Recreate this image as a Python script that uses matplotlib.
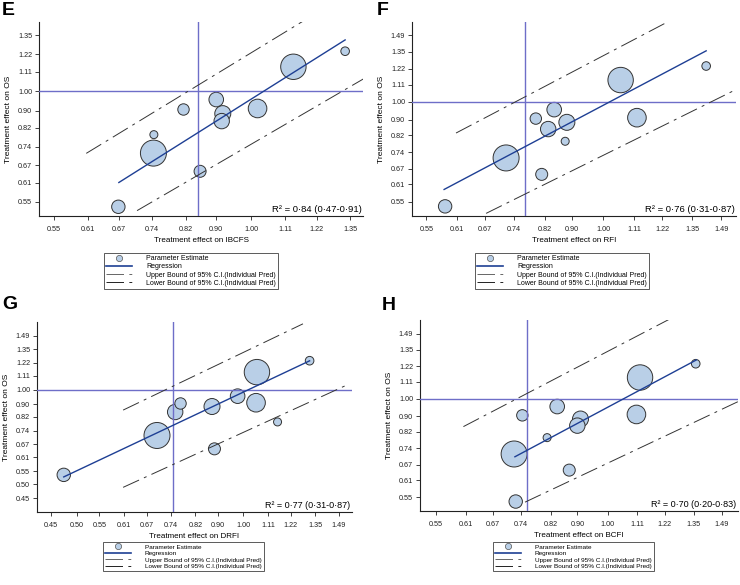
import matplotlib
matplotlib.use("Agg")
import matplotlib.pyplot as plt
from matplotlib.lines import Line2D

plt.rcParams['font.family'] = ['Liberation Sans', 'DejaVu Sans']

# OS hazard ratios of the 11 trial comparisons (same in every panel)
os_hr = [1.24, 1.14, 0.91, 0.955, 0.885, 0.85, 0.905, 0.79, 0.715, 0.648, 0.535]
# bubble radius (px), proportional to trial size
bubble_r = [4.3, 12.7, 9.3, 7.3, 8.0, 7.7, 5.7, 4.0, 13.0, 6.0, 6.7]

# treatment effect on the surrogate endpoint, same trial order
ibcfs_hr = [1.33, 1.137, 1.02, 0.90, 0.918, 0.915, 0.815, 0.745, 0.744, 0.857, 0.669]
rfi_hr = [1.415, 1.06, 1.12, 0.847, 0.884, 0.83, 0.796, 0.879, 0.72, 0.812, 0.586]
drfi_hr = [1.32, 1.06, 1.056, 0.978, 0.879, 0.754, 0.771, 1.155, 0.699, 0.888, 0.474]
bcfi_hr = [1.36, 1.12, 1.106, 0.839, 0.91, 0.90, 0.743, 0.81, 0.722, 0.875, 0.726]

letters = ['E', 'F', 'G', 'H']
x_names = ['IBCFS', 'RFI', 'DRFI', 'BCFI']
r2_text = ['0·84 (0·47-0·91)', '0·76 (0·31-0·87)', '0·77 (0·31-0·87)', '0·70 (0·20-0·83)']
ste = [0.851, 0.767, 0.746, 0.754]  # vertical reference line

# regression line and 95% prediction bounds (end points)
reg_x = [[0.67, 1.33], [0.584, 1.415], [0.474, 1.32], [0.724, 1.363]]
reg_y = [[0.61, 1.318], [0.592, 1.358], [0.527, 1.239], [0.703, 1.269]]
up_x = [[0.607, 1.171], [0.608, 1.25], [0.607, 1.284], [0.605, 1.24]]
up_y = [[0.714, 1.459], [0.830, 1.624], [0.862, 1.627], [0.845, 1.626]]
lo_x = [[0.708, 1.405], [0.673, 1.565], [0.607, 1.553], [0.750, 1.576]]
lo_y = [[0.524, 1.067], [0.513, 1.077], [0.488, 1.043], [0.533, 0.984]]

ticks_e = [0.55, 0.61, 0.67, 0.74, 0.82, 0.90, 1.00, 1.11, 1.22, 1.35]
ticks_f = ticks_e + [1.49]
ticks_g = [0.45, 0.50] + ticks_f

W, H = 740, 585
fill = '#b9cfe7'
reg_col = '#1e3f94'
ref_col = '#6e6ec8'
dash = (0, (18, 5.5, 3, 5.5))

fig = plt.figure(figsize=(W / 100, H / 100), dpi=100)

# axes boxes in px: left, top, right, bottom
boxes = [(39, 22, 363, 216), (412, 22, 736, 216), (37, 322, 352, 512), (420, 320, 738, 511)]
xlims = [(0.526, 1.404), (0.524, 1.565), (0.424, 1.575), (0.520, 1.576)]
ylims = [(0.509, 1.452), (0.505, 1.614), (0.407, 1.649), (0.505, 1.619)]
xticks = [ticks_e, ticks_f, ticks_g, ticks_f]
yticks = [ticks_e, ticks_f, ticks_g, ticks_f]
xdata = [ibcfs_hr, rfi_hr, drfi_hr, bcfi_hr]
letter_pos = [(2, 2), (377, 2), (2, 296), (382, 297)]
legend_pos = [(104, 253), (475, 253), (103, 542), (493, 542)]
leg_fs = [5.0, 5.0, 4.6, 4.6]

sizes = [(2 * r * 0.72) ** 2 for r in bubble_r]

for i in range(4):
    l, t, r, b = boxes[i]
    ax = fig.add_axes([l / W, 1 - b / H, (r - l) / W, (b - t) / H])
    ax.set_xscale('log')
    ax.set_yscale('log')

    ax.scatter(xdata[i], os_hr, s=sizes, c=fill, edgecolors='#333333', linewidths=0.7, zorder=3)
    ax.axhline(1.0, color=ref_col, lw=1.0, zorder=4)
    ax.axvline(ste[i], color=ref_col, lw=1.0, zorder=4)
    ax.plot(reg_x[i], reg_y[i], color=reg_col, lw=1.0, zorder=5)
    ax.plot(up_x[i], up_y[i], color='#333333', lw=0.7, ls=dash, zorder=5)
    ax.plot(lo_x[i], lo_y[i], color='#333333', lw=0.7, ls=dash, zorder=5)

    ax.set_xlim(*xlims[i])
    ax.set_ylim(*ylims[i])
    ax.minorticks_off()
    ax.set_xticks(xticks[i])
    ax.set_xticklabels(['%.2f' % v for v in xticks[i]])
    ax.set_yticks(yticks[i])
    ax.set_yticklabels(['%.2f' % v for v in yticks[i]])
    ax.minorticks_off()
    ax.tick_params(axis='x', length=3, width=0.6, pad=4, labelsize=5.2, colors='#222222')
    ax.tick_params(axis='y', length=3, width=0.6, pad=2, labelsize=5.2, colors='#222222')
    for s in ['top', 'right']:
        ax.spines[s].set_visible(False)
    for s in ['left', 'bottom']:
        ax.spines[s].set_color('#222222')
        ax.spines[s].set_linewidth(0.8)

    ax.set_xlabel('Treatment effect on ' + x_names[i], fontsize=5.8, labelpad=3)
    ax.set_ylabel('Treatment effect on OS', fontsize=6, labelpad=4)
    ax.text(0.995, 0.035, 'R² = ' + r2_text[i], transform=ax.transAxes,
            ha='right', va='center', fontsize=6.8 if i < 2 else 6.5)

    lx, ly = letter_pos[i]
    fig.text(lx / W, 1 - ly / H, letters[i], fontsize=14, fontweight='bold', va='top', ha='left')

    handles = [
        Line2D([], [], marker='o', ls='none', mfc=fill, mec='#555555', ms=4.5, mew=0.5),
        Line2D([], [], color=reg_col, lw=1.2),
        Line2D([], [], color='#666666', lw=0.7, ls=dash),
        Line2D([], [], color='#222222', lw=0.7, ls=dash),
    ]
    labels = ['Parameter Estimate', 'Regression',
              'Upper Bound of 95% C.I.(Individual Pred)',
              'Lower Bound of 95% C.I.(Individual Pred)']
    px, py = legend_pos[i]
    leg = fig.legend(handles, labels, loc='upper left', bbox_to_anchor=(px / W, 1 - py / H),
                     fontsize=leg_fs[i], frameon=True, fancybox=False, borderpad=0.35,
                     labelspacing=0.15, handlelength=18.5 / leg_fs[i],
                     handletextpad=10 / leg_fs[i], borderaxespad=0)
    leg.get_frame().set_edgecolor('#111111')
    leg.get_frame().set_linewidth(0.6)

fig.savefig('out.png', dpi=100)
